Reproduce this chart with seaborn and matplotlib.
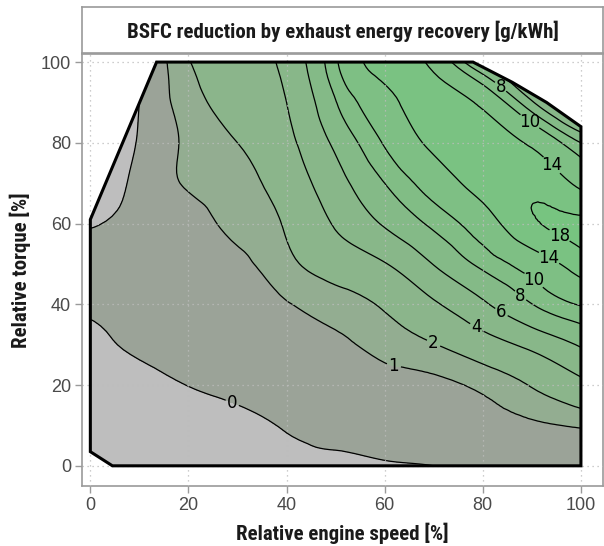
import numpy as np
import matplotlib
matplotlib.use("Agg")
import matplotlib.pyplot as plt
import matplotlib.tri as mtri
from matplotlib.patches import Polygon
import seaborn as sns

# grid of the map (relative engine speed / relative torque, %)
speed = [0, 10, 20, 30, 40, 50, 60, 70, 80, 90, 100]
torque = [0, 10, 20, 30, 40, 50, 60, 70, 80, 90, 100]

# BSFC reduction [g/kWh], one row per torque value
bsfc_t0 = [-2.5, -2.0, -1.6, -1.2, -0.45, -0.25, -0.1, 0.0, 0.25, 0.4, 0.55]
bsfc_t10 = [-1.5, -1.1, -0.7, -0.35, 0.08, 0.3, 0.48, 0.62, 0.75, 0.87, 1.1]
bsfc_t20 = [-0.8, -0.4, 0.02, 0.25, 0.42, 0.58, 0.72, 0.82, 1.2, 2.1, 3.5]
bsfc_t30 = [-0.25, 0.15, 0.35, 0.5, 0.7, 0.85, 1.3, 1.94, 3.1, 4.5, 6.2]
bsfc_t40 = [0.15, 0.3, 0.45, 0.65, 0.95, 1.45, 2.2, 3.75, 5.7, 7.96, 10.2]
bsfc_t50 = [0.4, 0.55, 0.7, 0.82, 1.67, 2.77, 3.9, 6.07, 8.47, 11.67, 16.0]
bsfc_t60 = [-0.1, 0.35, 0.65, 1.25, 2.16, 4.2, 6.2, 8.45, 12.0, 17.4, 18.8]
bsfc_t70 = [-1.0, 0.3, 1.1, 1.6, 2.8, 5.25, 8.0, 11.6, 15.6, 17.0, 13.0]
bsfc_t80 = [-1.5, 0.1, 1.18, 2.0, 3.5, 6.4, 10.25, 15.0, 16.5, 13.3, 8.0]
bsfc_t90 = [-2.0, 0.0, 1.5, 2.6, 4.0, 7.9, 12.6, 16.0, 13.0, 6.3, 0.0]
bsfc_t100 = [-2.0, -0.3, 1.93, 2.9, 4.6, 9.6, 16.1, 12.8, 5.4, 1.0, -3.0]

# full load curve / operating range outline
outline_speed = [0, 4.5, 100, 100, 93, 86, 78, 13.5, 0]
outline_torque = [3.5, 0, 0, 84, 90, 95, 100, 100, 61]

levels = [0, 1, 2, 4, 6, 8, 10, 14, 18]
label_spots = [(29, 15.8), (62, 25.5), (70, 30.5), (79, 35), (84, 38.5), (87.3, 41.6),
               (90.4, 46), (93.5, 51.5), (95.5, 56.7), (94.5, 75), (89.4, 85), (83.7, 94)]

sns.set_style("white")
narrow = ["Roboto Condensed", "Liberation Sans Narrow", "DejaVu Sans"]
plt.rcParams["font.family"] = ["Liberation Sans", "DejaVu Sans"]

Z = np.array([bsfc_t0, bsfc_t10, bsfc_t20, bsfc_t30, bsfc_t40, bsfc_t50,
              bsfc_t60, bsfc_t70, bsfc_t80, bsfc_t90, bsfc_t100])
X, Y = np.meshgrid(speed, torque)

# smooth the contours with matplotlib's own refiner
tri = mtri.Triangulation(X.ravel(), Y.ravel())
tri_fine, z_fine = mtri.UniformTriRefiner(tri).refine_field(Z.ravel(), subdiv=3)

band_colors = ["#bebebe", "#9ba398", "#93ad91"] + sns.blend_palette(
    ["#8bb58b", "#77c480"], n_colors=7).as_hex()

fig = plt.figure(figsize=(6.04, 5.46), dpi=100)
W, H = 604, 546
ax = fig.add_axes([82 / W, 1 - 486 / H, 521 / W, 432 / H])

outline = Polygon(np.column_stack([outline_speed, outline_torque]), closed=True,
                  facecolor="none", edgecolor="black", lw=2.2, zorder=4)
ax.add_patch(outline)

cf = ax.tricontourf(tri_fine, z_fine, levels=[-50] + levels + [50],
                    colors=band_colors, zorder=1)
cf.set_clip_path(outline)
cl = ax.tricontour(tri_fine, z_fine, levels=levels, colors="black",
                   linewidths=0.9, zorder=2)
cl.set_clip_path(outline)
lab = ax.clabel(cl, fmt="%g", fontsize=12, inline=True, inline_spacing=3,
                manual=label_spots)
for t in lab:
    t.set_family(["DejaVu Sans"])
    t.set_rotation(0)
    t.set_clip_path(outline)

ax.set_xlim(-1.7, 104.5)
ax.set_ylim(-5, 102)
ax.set_xticks([0, 20, 40, 60, 80, 100])
ax.set_yticks([0, 20, 40, 60, 80, 100])
ax.grid(True, linestyle=(0, (1, 3)), color="#bdbdbd", lw=0.9)
ax.set_axisbelow(False)
for s in ax.spines.values():
    s.set_color("#9a9a9a")
    s.set_linewidth(1.2)
ax.tick_params(axis="both", direction="out", length=5, width=1, color="#9a9a9a",
               labelsize=13, labelcolor="#4a4a4a", pad=3)
ax.tick_params(top=False, right=False, bottom=True, left=True)
ax.set_xlabel("Relative engine speed [%]", family=narrow, fontweight="bold",
              fontsize=15, labelpad=6, color="#1a1a1a")
ax.set_ylabel("Relative torque [%]", family=narrow, fontweight="bold",
              fontsize=15, labelpad=7, color="#1a1a1a")

strip = fig.add_axes([82 / W, 1 - 53 / H, 521 / W, 46 / H])
strip.set_xticks([])
strip.set_yticks([])
for s in strip.spines.values():
    s.set_color("#9a9a9a")
    s.set_linewidth(1.2)
strip.text(0.5, 0.48, "BSFC reduction by exhaust energy recovery [g/kWh]",
           ha="center", va="center", family=narrow, fontweight="bold",
           fontsize=15, color="#1a1a1a", transform=strip.transAxes)

fig.savefig("out.png", dpi=100)
